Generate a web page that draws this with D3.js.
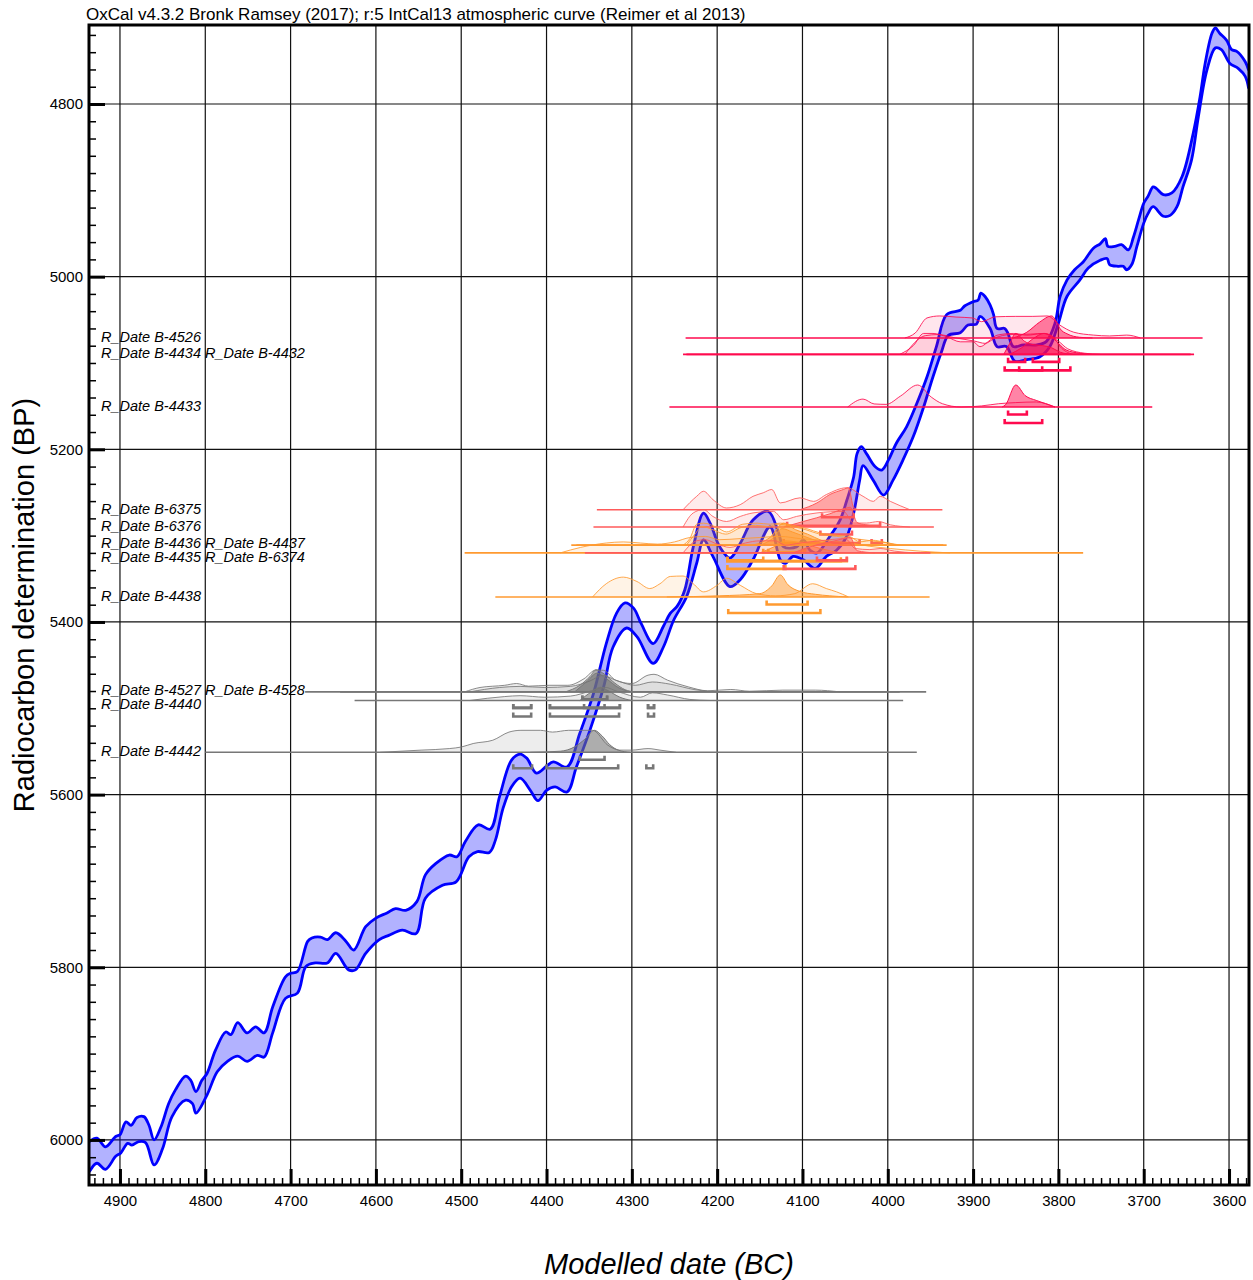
<!DOCTYPE html>
<html>
<head>
<meta charset="utf-8">
<title>OxCal curve plot</title>
<script src="https://cdn.jsdelivr.net/npm/d3@7"></script>
<style>
  body { margin: 0; background: #fff; }
  svg { display: block; font-family: "Liberation Sans", Arial, Helvetica, sans-serif; }
</style>
</head>
<body>
<svg id="chart" width="1253" height="1280"></svg>
<script>
// ---- tick values ----
const majorYears = [4900, 4800, 4700, 4600, 4500, 4400, 4300, 4200, 4100, 4000, 3900, 3800, 3700, 3600];
const majorBP = [4800, 5000, 5200, 5400, 5600, 5800, 6000];

// ---- IntCal13 curve: [year BC, BP] ----
// upper edge (mean - sigma) and lower edge (mean + sigma)
const curveUpper = [
  [4936,6002],[4927,5998],[4917,6008],[4905,5996],[4900,5994],[4893,5979],[4887,5983],[4880,5974],
  [4872,5973],[4866,5983],[4860,6000],[4852,5985],[4843,5958],[4835,5942],[4823,5926],[4817,5931],
  [4811,5944],[4804,5931],[4798,5923],[4788,5896],[4776,5875],[4770,5878],[4762,5864],[4751,5876],
  [4741,5869],[4731,5876],[4721,5846],[4706,5811],[4700,5807],[4692,5805],[4680,5770],[4675,5766],
  [4665,5765],[4657,5768],[4647,5760],[4635,5770],[4626,5780],[4612,5753],[4600,5743],[4587,5737],
  [4577,5732],[4565,5734],[4552,5724],[4542,5693],[4530,5680],[4514,5670],[4505,5672],[4495,5654],
  [4480,5635],[4466,5640],[4455,5602],[4441,5560],[4431,5553],[4423,5558],[4412,5575],[4400,5567],
  [4392,5562],[4376,5568],[4361,5529],[4345,5483],[4330,5425],[4318,5390],[4308,5378],[4298,5384],
  [4289,5402],[4275,5425],[4263,5405],[4255,5390],[4247,5382],[4238,5363],[4228,5313],[4216,5274],
  [4208,5286],[4197,5313],[4185,5326],[4173,5309],[4158,5282],[4140,5272],[4128,5297],[4122,5313],
  [4107,5313],[4099,5305],[4091,5317],[4083,5320],[4068,5301],[4056,5282],[4048,5259],[4040,5232],
  [4036,5205],[4031,5197],[4025,5205],[4015,5220],[4007,5224],[3999,5212],[3990,5193],[3978,5174],
  [3966,5147],[3954,5116],[3943,5081],[3931,5044],[3915,5039],[3910,5034],[3900,5029],[3894,5027],
  [3891,5019],[3886,5023],[3880,5033],[3876,5044],[3872,5060],[3863,5060],[3859,5066],[3853,5081],
  [3841,5079],[3825,5079],[3814,5075],[3804,5054],[3798,5023],[3790,5004],[3781,4992],[3771,4983],
  [3759,4967],[3751,4962],[3745,4956],[3742,4965],[3734,4965],[3726,4963],[3718,4969],[3712,4954],
  [3706,4934],[3700,4915],[3695,4907],[3689,4896],[3685,4898],[3677,4905],[3667,4903],[3655,4884],
  [3642,4834],[3634,4792],[3628,4753],[3620,4718],[3616,4712],[3611,4718],[3603,4726],[3597,4737],
  [3591,4739],[3581,4751],[3577,4761]
];
const curveLower = [
  [4936,6037],[4927,6027],[4917,6034],[4905,6019],[4899,6015],[4891,6004],[4886,6006],[4878,6002],
  [4870,6003],[4860,6029],[4850,6010],[4839,5973],[4823,5954],[4815,5958],[4811,5969],[4798,5948],
  [4786,5921],[4774,5909],[4762,5903],[4751,5909],[4739,5902],[4731,5904],[4721,5876],[4706,5836],
  [4692,5830],[4682,5799],[4671,5795],[4657,5795],[4647,5784],[4632,5803],[4624,5803],[4612,5784],
  [4596,5768],[4585,5763],[4569,5757],[4553,5761],[4542,5720],[4522,5705],[4506,5701],[4491,5672],
  [4481,5666],[4467,5667],[4460,5653],[4451,5616],[4441,5591],[4431,5581],[4419,5595],[4410,5607],
  [4400,5595],[4390,5591],[4376,5597],[4365,5568],[4349,5525],[4333,5475],[4322,5429],[4306,5407],
  [4294,5417],[4275,5448],[4263,5429],[4251,5398],[4236,5371],[4224,5332],[4216,5305],[4205,5324],
  [4185,5359],[4173,5351],[4158,5328],[4138,5290],[4126,5328],[4120,5332],[4111,5324],[4099,5328],
  [4085,5338],[4072,5324],[4060,5317],[4048,5301],[4040,5274],[4033,5236],[4029,5219],[4017,5236],
  [4005,5253],[3994,5236],[3982,5212],[3970,5185],[3958,5151],[3947,5116],[3937,5087],[3929,5068],
  [3915,5065],[3906,5056],[3896,5055],[3892,5046],[3880,5060],[3872,5081],[3861,5081],[3851,5098],
  [3837,5096],[3822,5093],[3810,5081],[3800,5054],[3790,5023],[3775,5004],[3765,4990],[3751,4981],
  [3743,4979],[3740,4986],[3730,4988],[3724,4988],[3720,4992],[3714,4986],[3708,4965],[3700,4938],
  [3695,4927],[3689,4919],[3677,4930],[3669,4929],[3661,4919],[3654,4896],[3644,4865],[3636,4815],
  [3626,4761],[3616,4735],[3609,4737],[3599,4753],[3589,4759],[3581,4768],[3577,4782]
];

// ---- R_Dates ----
const dateNames = ["B-4526","B-4434","B-4432","B-4433","B-6375","B-6376","B-4436","B-4437",
                   "B-4435","B-6374","B-4438","B-4527","B-4528","B-4440","B-4442"];
const dateBP = [5071,5090,5090,5151,5270,5290,5311,5311,5320,5320,5371,5481,5481,5491,5551];
const dateGroup = ["crimson","crimson","crimson","crimson","salmon","salmon","orange","orange",
                   "orange","salmon","orange","grey","grey","grey","grey"];
// extent of the plotted distribution, years BC
const dateSpan = [[4237,3631],[4240,3641],[4236,3645],[4256,3690],[4341,3936],[4345,3946],[4371,3931],
                  [4365,3935],[4496,3771],[4355,3950],[4460,3951],[4683,3955],[4642,3986],[4625,3982],[4800,3966]];

// likelihood (light) and posterior (dark), [year BC, relative probability]
const likeB4526 = [[3980,0],[3968,.22],[3954,.91],[3939,1],[3920,.95],[3901,.91],[3890,.74],[3874,.96],[3850,.98],[3830,.98],[3813,1],[3799,.6],[3782,.26],[3759,.13],[3740,.09],[3720,.13],[3704,0]];
const postB4526 = [[3853,0],[3837,.26],[3822,.72],[3808,1],[3802,.72],[3798,.42],[3790,.19],[3775,.03],[3760,0]];
const likeB4434 = [[3986,0],[3970,.4],[3958,.95],[3947,.95],[3931,.8],[3915,.57],[3900,.57],[3892,.35],[3880,.65],[3872,.87],[3853,.95],[3837,.87],[3818,.95],[3806,.8],[3798,.35],[3783,0]];
const postB4434 = [[3864,0],[3857,.5],[3850,.95],[3840,.6],[3831,.45],[3819,.4],[3808,.3],[3798,.1],[3784,0]];
const likeB4432 = [[3980,0],[3956,.85],[3941,.9],[3921,.75],[3898,.6],[3886,.5],[3874,.75],[3857,.9],[3833,.92],[3816,.95],[3800,.6],[3789,.25],[3769,.05],[3751,0]];
const postB4432 = [[3857,0],[3843,.3],[3830,.7],[3817,.95],[3810,.85],[3800,.5],[3791,.2],[3775,.05],[3763,0]];
const likeB4433 = [[4047,0],[4029,.36],[4016,.14],[4002,.12],[3985,.5],[3965,1],[3949,.45],[3936,.15],[3914,0],[3890,.05],[3870,.15],[3850,.2],[3826,.23],[3804,0]];
const postB4433 = [[3866,0],[3862,.1],[3850,1],[3839,.52],[3826,.3],[3815,.15],[3804,0]];
const likeB6375 = [[4240,0],[4224,.61],[4216,.84],[4205,.46],[4189,.08],[4173,.23],[4158,.61],[4146,.77],[4136,.92],[4126,.31],[4103,.54],[4087,.38],[4072,.69],[4048,1],[4029,.61],[4017,.38],[4009,.61],[3997,.38],[3974,0]];
const postB6375 = [[4103,0],[4083,.31],[4068,.69],[4052,.92],[4046,1],[4040,.1],[4034,0]];
const likeB6376 = [[4240,0],[4228,.64],[4216,.79],[4205,.48],[4189,.25],[4173,.48],[4158,.64],[4134,.71],[4122,.33],[4107,.48],[4083,.64],[4052,.71],[4040,.18],[4025,.18],[4011,.25],[3997,.1],[3974,0]];
const postB6376 = [[4122,0],[4099,.25],[4068,.6],[4050,.85],[4044,.9],[4036,.2],[4026,.1],[4009,0]];
const likeB4436 = [[4240,0],[4232,.3],[4224,.95],[4216,1],[4200,.8],[4189,.6],[4170,.95],[4153,1],[4138,.95],[4126,1],[4111,.9],[4095,.75],[4079,.55],[4060,.45],[4044,.38],[4033,.15],[4017,.22],[4006,.15],[3989,0]];
const postB4436 = [[4158,0],[4138,.35],[4122,1],[4108,.7],[4094,.5],[4077,.2],[4062,0]];
const likeB4437 = [[4236,0],[4226,.5],[4218,.85],[4205,.7],[4190,.5],[4172,.8],[4155,.9],[4140,.85],[4128,.95],[4112,.85],[4096,.7],[4080,.5],[4060,.4],[4040,.3],[4020,.2],[4000,.1],[3985,0]];
const postB4437 = [[4150,0],[4135,.3],[4124,.75],[4112,.6],[4098,.4],[4080,.15],[4065,0]];
const likeB4435 = [[4384,0],[4360,.25],[4330,.45],[4310,.5],[4290,.45],[4270,.4],[4250,.5],[4232,.7],[4214,.75],[4197,.6],[4173,.65],[4150,.7],[4126,.75],[4103,.65],[4068,.55],[4044,.45],[4021,.3],[3997,.2],[3962,.08],[3927,0]];
const postB4435 = [[4150,0],[4132,.3],[4120,.55],[4108,.5],[4097,.4],[4079,.2],[4056,0]];
const likeB6374 = [[4240,0],[4224,.55],[4214,.6],[4200,.4],[4185,.25],[4167,.45],[4150,.55],[4132,.55],[4120,.35],[4103,.45],[4079,.55],[4050,.65],[4038,.2],[4021,.15],[4009,.2],[3992,.08],[3968,0]];
const postB6374 = [[4111,0],[4085,.35],[4062,.55],[4044,.7],[4036,.1],[4015,0]];
const likeB4438 = [[4346,0],[4330,.6],[4310,.9],[4294,.7],[4279,.38],[4267,.6],[4255,.93],[4240,.95],[4228,.6],[4216,.23],[4200,.53],[4189,.85],[4173,.53],[4154,.15],[4132,.05],[4109,.15],[4088,.6],[4072,.38],[4060,.23],[4046,0]];
const postB4438 = [[4259,0],[4197,.05],[4150,.15],[4136,.5],[4126,1],[4117,.55],[4103,.25],[4085,.12],[4068,.05],[4047,0]];
const likeB4527 = [[4496,0],[4478,.2],[4449,.3],[4435,.38],[4421,.26],[4397,.3],[4375,.3],[4356,.6],[4342,1],[4333,.98],[4319,.53],[4300,.38],[4281,.76],[4274,.8],[4258,.53],[4234,.23],[4211,.05],[4184,.11],[4162,.03],[4123,.08],[4085,.08],[4056,0]];
const postB4527 = [[4378,0],[4361,.3],[4349,.7],[4342,1],[4332,.8],[4320,.4],[4308,.1],[4296,0]];
const likeB4528 = [[4490,0],[4455,.2],[4431,.25],[4402,.2],[4372,.25],[4349,.5],[4334,.75],[4320,.55],[4296,.3],[4276,.45],[4255,.35],[4226,.1],[4197,0]];
const postB4528 = [[4367,0],[4352,.5],[4341,.85],[4330,.6],[4316,.2],[4302,0]];
const likeB4440 = [[4490,0],[4449,.18],[4431,.22],[4402,.15],[4372,.2],[4347,.45],[4332,.6],[4316,.4],[4290,.15],[4276,.35],[4258,.25],[4232,.05],[4208,0]];
const postB4440 = [[4361,0],[4347,.4],[4337,.6],[4328,.45],[4314,.15],[4300,0]];
const likeB4442 = [[4595,0],[4547,.1],[4514,.17],[4500,.24],[4486,.4],[4463,.55],[4444,.92],[4430,1],[4407,1],[4393,.92],[4374,1],[4356,1],[4346,1],[4328,.32],[4314,.1],[4300,.1],[4281,.17],[4267,.1],[4248,0]];
const postB4442 = [[4419,0],[4384,.05],[4367,.25],[4355,.6],[4344,1],[4335,.75],[4326,.35],[4316,.1],[4302,0]];

// 68.2% and 95.4% ranges, [from, to] years BC
const dateR68 = [[],[[3859,3839]],[[3830,3799]],[[3859,3837]],[[4077,4040]],[[4079,4042]],[[4146,4097]],[[4140,4100]],
                 [[4188,4146]],[[4083,4048]],[[4142,4094]],[[4358,4329]],[[4358,4329]],[[4356,4332]],[[4361,4332]]];
const dateR95 = [[],[[3863,3819]],[[3846,3786]],[[3863,3819]],[[4118,4009]],[[4122,4033],[4019,4007]],[[4188,4048]],[[4188,4055]],
                 [[4188,4120]],[[4122,4038]],[[4187,4079]],[[4439,4418],[4396,4314],[4281,4274]],
                 [[4439,4418],[4396,4314],[4281,4274]],[[4439,4418],[4396,4315],[4281,4274]],
                 [[4439,4417],[4400,4316],[4283,4275]]];

const dateLike = [likeB4526,likeB4434,likeB4432,likeB4433,likeB6375,likeB6376,likeB4436,likeB4437,likeB4435,likeB6374,likeB4438,likeB4527,likeB4528,likeB4440,likeB4442];
const datePost = [postB4526,postB4434,postB4432,postB4433,postB6375,postB6376,postB4436,postB4437,postB4435,postB6374,postB4438,postB4527,postB4528,postB4440,postB4442];

// ---- styles ----
const groupStyle = {
  crimson: { line: "#ff0a4e", light: "rgba(255,10,78,0.10)", dark: "rgba(255,10,78,0.50)" },
  salmon:  { line: "#ff5a5a", light: "rgba(255,90,90,0.12)", dark: "rgba(255,80,80,0.45)" },
  orange:  { line: "#ff9a30", light: "rgba(255,154,48,0.12)", dark: "rgba(255,150,40,0.50)" },
  grey:    { line: "#777777", light: "rgba(140,140,140,0.16)", dark: "rgba(110,110,110,0.50)" }
};

const dates = dateNames.map((name, i) => ({
  name, bp: dateBP[i], group: dateGroup[i], span: dateSpan[i],
  like: dateLike[i], post: datePost[i], r68: dateR68[i], r95: dateR95[i]
}));

// ---- layout ----
const plot = { left: 89, top: 25, right: 1249, bottom: 1185 };

const svg = d3.select('#chart');

const x = d3.scaleLinear().domain([4936.3, 3576.6]).range([plot.left, plot.right]);
const y = d3.scaleLinear().domain([4708.5, 6052.2]).range([plot.top, plot.bottom]);
const h = d3.scaleLinear().domain([0, 1]).range([0, 22]);

svg.append('defs').append('clipPath').attr('id', 'plotClip')
  .append('rect')
  .attr('x', plot.left).attr('y', plot.top)
  .attr('width', plot.right - plot.left).attr('height', plot.bottom - plot.top);

// grid
const grid = svg.append('g').attr('class', 'grid').attr('stroke', '#111').attr('stroke-width', 1.2);
grid.selectAll('line.v').data(majorYears).join('line')
  .attr('class', 'v')
  .attr('x1', d => x(d)).attr('x2', d => x(d))
  .attr('y1', plot.top).attr('y2', plot.bottom);
grid.selectAll('line.h').data(majorBP).join('line')
  .attr('class', 'h')
  .attr('x1', plot.left).attr('x2', plot.right)
  .attr('y1', d => y(d)).attr('y2', d => y(d));

// calibration curve (smoothed through the read points)
const gCurve = svg.append('g').attr('clip-path', 'url(#plotClip)');
const calLine = d3.line().x(d => x(d[0])).y(d => y(d[1])).curve(d3.curveCatmullRom.alpha(0.5));
const lowerBack = calLine(curveLower.slice().reverse());
gCurve.append('path')
  .attr('d', calLine(curveUpper) + 'L' + lowerBack.slice(1) + 'Z')
  .attr('fill', 'rgba(0,0,255,0.3)');
[curveUpper, curveLower].forEach(c => {
  gCurve.append('path')
    .attr('d', calLine(c))
    .attr('fill', 'none')
    .attr('stroke', '#0000ff')
    .attr('stroke-width', 2.8)
    .attr('stroke-linejoin', 'round');
});

// R_Date distributions
const gDates = svg.append('g').attr('clip-path', 'url(#plotClip)');
dates.forEach(d => {
  const base = y(d.bp);
  const st = groupStyle[d.group];
  const area = d3.area().x(p => x(p[0])).y0(base).y1(p => base - h(p[1])).curve(d3.curveMonotoneX);
  const edge = d3.line().x(p => x(p[0])).y(p => base - h(p[1])).curve(d3.curveMonotoneX);
  const g = gDates.append('g').attr('class', 'r-date');

  g.append('path').attr('d', area(d.like)).attr('fill', st.light);
  g.append('path').attr('d', edge(d.like)).attr('fill', 'none')
    .attr('stroke', st.line).attr('stroke-width', 1).attr('stroke-opacity', 0.85);
  g.append('path').attr('d', area(d.post)).attr('fill', st.dark);
  g.append('path').attr('d', edge(d.post)).attr('fill', 'none')
    .attr('stroke', st.line).attr('stroke-width', 1);

  g.append('line')
    .attr('x1', x(d.span[0])).attr('x2', x(d.span[1]))
    .attr('y1', base).attr('y2', base)
    .attr('stroke', st.line).attr('stroke-width', 1.6);

  // range brackets under the baseline
  const bracket = (r, off) => {
    const yy = base + off;
    return `M${x(r[0])},${yy - 4}V${yy}H${x(r[1])}V${yy - 4}`;
  };
  d.r68.forEach(r => g.append('path').attr('d', bracket(r, 7.5)).attr('fill', 'none')
    .attr('stroke', st.line).attr('stroke-width', 2.6));
  d.r95.forEach(r => g.append('path').attr('d', bracket(r, 16)).attr('fill', 'none')
    .attr('stroke', st.line).attr('stroke-width', 2.6));
});

// labels, one row per BP value, nudged apart where rows crowd
const rows = d3.groups(dates, d => d.bp).map(([bp, ds]) => ({
  y: y(bp), text: ds.map(d => 'R_Date ' + d.name).join(' ')
}));
rows.sort((a, b) => a.y - b.y);
for (let i = 1; i < rows.length; i++) {
  if (rows[i].y - rows[i - 1].y < 14) {
    const mid = (rows[i].y + rows[i - 1].y) / 2 + 1.5;
    rows[i - 1].y = mid - 7;
    rows[i].y = mid + 7;
  }
}
svg.append('g').selectAll('text').data(rows).join('text')
  .attr('x', 101).attr('y', d => d.y + 4)
  .attr('font-size', 14.5).attr('font-style', 'italic').attr('fill', '#000')
  .text(d => d.text);

// axes
const tidy = g => {
  g.select('.domain').remove();
  g.attr('font-family', null);
  g.selectAll('text').attr('font-size', 15).attr('fill', '#000');
  g.selectAll('line').attr('stroke', '#000');
};
svg.append('g').attr('transform', `translate(0,${plot.bottom})`)
  .call(d3.axisBottom(x).tickValues(d3.range(4930, 3575, -10)).tickSize(-7).tickFormat(''))
  .call(tidy).selectAll('line').attr('stroke-width', 1.5);
svg.append('g').attr('transform', `translate(0,${plot.bottom})`)
  .call(d3.axisBottom(x).tickValues(majorYears).tickSize(-16).tickPadding(10).tickFormat(d3.format('d')))
  .call(tidy).selectAll('line').attr('stroke-width', 3);
svg.append('g').attr('transform', `translate(${plot.left},0)`)
  .call(d3.axisLeft(y).tickValues(d3.range(4720, 6041, 20)).tickSize(-7).tickFormat(''))
  .call(tidy).selectAll('line').attr('stroke-width', 1.5);
svg.append('g').attr('transform', `translate(${plot.left},0)`)
  .call(d3.axisLeft(y).tickValues(majorBP).tickSize(-16).tickPadding(6).tickFormat(d3.format('d')))
  .call(tidy).selectAll('line').attr('stroke-width', 3);

// frame
svg.append('rect')
  .attr('x', plot.left).attr('y', plot.top)
  .attr('width', plot.right - plot.left).attr('height', plot.bottom - plot.top)
  .attr('fill', 'none').attr('stroke', '#000').attr('stroke-width', 3);

// titles
svg.append('text')
  .attr('x', 86).attr('y', 20)
  .attr('font-size', 17)
  .text('OxCal v4.3.2 Bronk Ramsey (2017); r:5 IntCal13 atmospheric curve (Reimer et al 2013)');

svg.append('text')
  .attr('transform', `translate(24,${(plot.top + plot.bottom) / 2}) rotate(-90)`)
  .attr('text-anchor', 'middle').attr('dy', '0.35em')
  .attr('font-size', 29)
  .text('Radiocarbon determination (BP)');

svg.append('text')
  .attr('x', (plot.left + plot.right) / 2).attr('y', 1274)
  .attr('text-anchor', 'middle')
  .attr('font-size', 29).attr('font-style', 'italic')
  .text('Modelled date (BC)');
</script>
</body>
</html>
